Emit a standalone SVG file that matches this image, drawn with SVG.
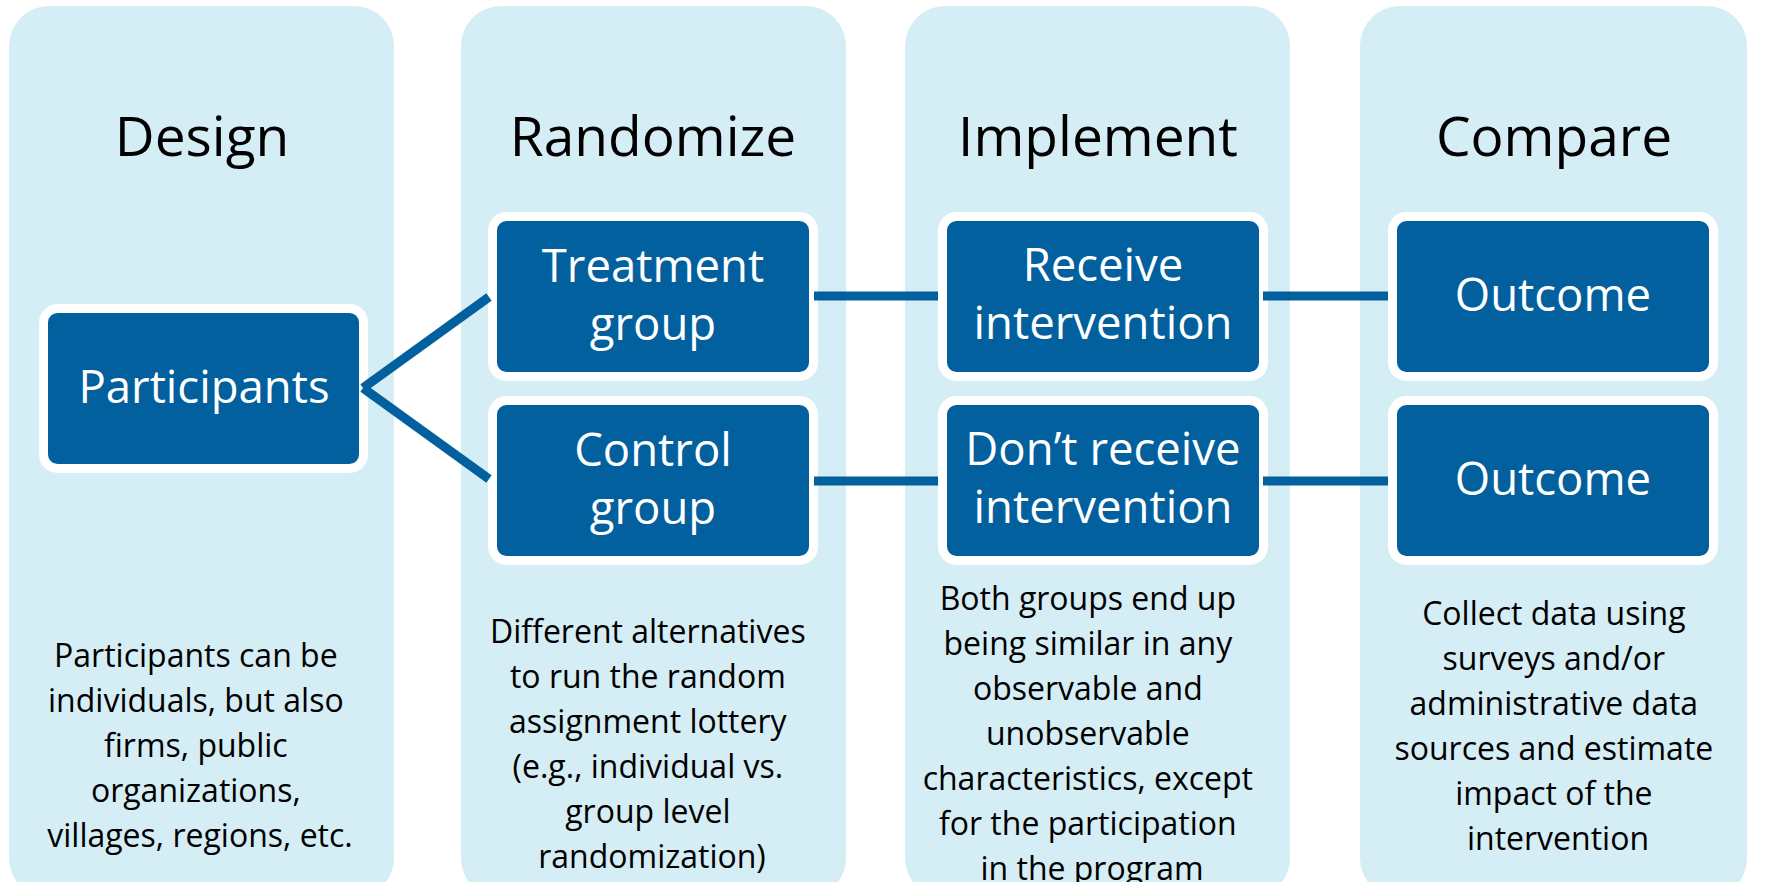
<svg xmlns="http://www.w3.org/2000/svg" width="1768" height="882" viewBox="0 0 1768 882">
  <style>
    .panel { fill: #D5EDF4; }
    .node rect { fill: #02609E; stroke: #FFFFFF; stroke-width: 9; }
    .node text { fill: #FFFFFF; font-family: "Open Sans", "Noto Sans", sans-serif; font-size: 45.5px; text-anchor: middle; }
    .title { fill: #000000; font-family: "Open Sans", "Noto Sans", sans-serif; font-size: 55px; text-anchor: middle; }
    .desc { fill: #000000; font-family: "Open Sans", "Noto Sans", sans-serif; font-size: 32px; text-anchor: middle; }
    .link { stroke: #02609E; stroke-width: 9; fill: none; }
  </style>

  <!-- stage columns -->
  <g id="columns">
    <rect class="panel" x="9" y="6" width="385" height="892" rx="40"/>
    <rect class="panel" x="461" y="6" width="385" height="892" rx="40"/>
    <rect class="panel" x="905" y="6" width="385" height="892" rx="40"/>
    <rect class="panel" x="1360" y="6" width="387" height="892" rx="40"/>
  </g>

  <!-- stage titles -->
  <g id="titles">
    <text class="title" x="202" y="156">Design</text>
    <text class="title" x="653" y="156">Randomize</text>
    <text class="title" x="1098" y="156">Implement</text>
    <text class="title" x="1554" y="156">Compare</text>
  </g>

  <!-- nodes -->
  <g id="participants" class="node">
    <rect x="43.5" y="308.5" width="320" height="160" rx="14"/>
    <text x="204" y="403">Participants</text>
  </g>
  <g id="treatment" class="node">
    <rect x="492.5" y="216.5" width="321" height="160" rx="14"/>
    <text x="653" y="282">Treatment</text>
    <text x="653" y="340">group</text>
  </g>
  <g id="control" class="node">
    <rect x="492.5" y="400.5" width="321" height="160" rx="14"/>
    <text x="653" y="466">Control</text>
    <text x="653" y="524">group</text>
  </g>
  <g id="receive" class="node">
    <rect x="942.5" y="216.5" width="321" height="160" rx="14"/>
    <text x="1103" y="281">Receive</text>
    <text x="1103" y="339">intervention</text>
  </g>
  <g id="dont-receive" class="node">
    <rect x="942.5" y="400.5" width="321" height="160" rx="14"/>
    <text x="1103" y="465">Don’t receive</text>
    <text x="1103" y="523">intervention</text>
  </g>
  <g id="outcome-treatment" class="node">
    <rect x="1392.5" y="216.5" width="321" height="160" rx="14"/>
    <text x="1553" y="311">Outcome</text>
  </g>
  <g id="outcome-control" class="node">
    <rect x="1392.5" y="400.5" width="321" height="160" rx="14"/>
    <text x="1553" y="495">Outcome</text>
  </g>

  <!-- connectors -->
  <g id="connectors">
    <line class="link" x1="363" y1="388" x2="489" y2="297"/>
    <line class="link" x1="363" y1="388" x2="489" y2="479"/>
    <line class="link" x1="814" y1="296" x2="938" y2="296"/>
    <line class="link" x1="814" y1="481" x2="938" y2="481"/>
    <line class="link" x1="1263" y1="296" x2="1388" y2="296"/>
    <line class="link" x1="1263" y1="481" x2="1388" y2="481"/>
  </g>

  <!-- stage notes -->
  <g id="notes">
    <text class="desc" x="200" y="667">
      <tspan x="200">Participants can be</tspan>
      <tspan x="200" dy="45">individuals, but also</tspan>
      <tspan x="200" dy="45">firms, public</tspan>
      <tspan x="200" dy="45">organizations,</tspan>
      <tspan x="200" dy="45">villages, regions, etc.</tspan>
    </text>
    <text class="desc" x="652" y="643">
      <tspan x="652">Different alternatives</tspan>
      <tspan x="652" dy="45">to run the random</tspan>
      <tspan x="652" dy="45">assignment lottery</tspan>
      <tspan x="652" dy="45">(e.g., individual vs.</tspan>
      <tspan x="652" dy="45">group level</tspan>
      <tspan x="652" dy="45">randomization)</tspan>
    </text>
    <text class="desc" x="1092" y="610">
      <tspan x="1092">Both groups end up</tspan>
      <tspan x="1092" dy="45">being similar in any</tspan>
      <tspan x="1092" dy="45">observable and</tspan>
      <tspan x="1092" dy="45">unobservable</tspan>
      <tspan x="1092" dy="45">characteristics, except</tspan>
      <tspan x="1092" dy="45">for the participation</tspan>
      <tspan x="1092" dy="45">in the program</tspan>
    </text>
    <text class="desc" x="1558" y="625">
      <tspan x="1558">Collect data using</tspan>
      <tspan x="1558" dy="45">surveys and/or</tspan>
      <tspan x="1558" dy="45">administrative data</tspan>
      <tspan x="1558" dy="45">sources and estimate</tspan>
      <tspan x="1558" dy="45">impact of the</tspan>
      <tspan x="1558" dy="45">intervention</tspan>
    </text>
  </g>
</svg>
